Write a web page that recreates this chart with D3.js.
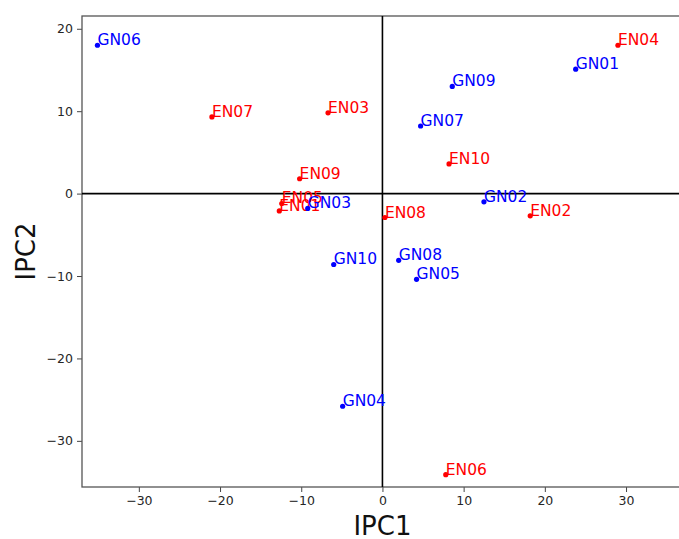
<!DOCTYPE html>
<html>
<head>
<meta charset="utf-8">
<script src="https://cdn.jsdelivr.net/npm/d3@7"></script>
<style>
	body { margin:0; background:#fff; }
	svg { display:block; font-family:"DejaVu Sans", sans-serif; }
	.tick text { fill:#262626; }
</style>
</head>
<body>
<svg id="chart" width="679" height="539"></svg>
<script>

// sample names and coordinates
var enNames = ["EN01","EN02","EN03","EN04","EN05","EN06","EN07","EN08","EN09","EN10"];
var enPC1 = [-12.7, 18.2, -6.7, 29.0, -12.4, 7.8, -21.0, 0.3, -10.2, 8.2];
var enPC2 = [-2.1, -2.7, 9.8, 18.0, -1.2, -34.1, 9.3, -2.9, 1.8, 3.6];

var gnNames = ["GN01","GN02","GN03","GN04","GN05","GN06","GN07","GN08","GN09","GN10"];
var gnPC1 = [23.8, 12.5, -9.2, -4.9, 4.2, -35.1, 4.7, 2.0, 8.6, -6.0];
var gnPC2 = [15.1, -1.0, -1.8, -25.8, -10.4, 18.0, 8.2, -8.1, 13.0, -8.6];

var xTicks = [-30, -20, -10, 0, 10, 20, 30];
var yTicks = [-30, -20, -10, 0, 10, 20];
var xLimits = [-37, 37];
var yLimits = [-35.6, 21.55];

var margin = {left:82, top:16, bottom:52};
var plotW = 74*8.12;
var plotH = 539 - margin.top - margin.bottom;

var svg = d3.select("#chart");
var g = svg.append("g").attr("transform","translate("+margin.left+","+margin.top+")");

var x = d3.scaleLinear().domain(xLimits).range([0, plotW]);
var y = d3.scaleLinear().domain(yLimits).range([plotH, 0]);

function minusSign(d){ return d3.format("d")(d).replace("-", "\u2212"); }

var xAxis = g.append("g")
	.attr("transform","translate(0,"+plotH+")")
	.call(d3.axisBottom(x).tickValues(xTicks).tickSize(5).tickPadding(4).tickFormat(minusSign));
var yAxis = g.append("g")
	.call(d3.axisLeft(y).tickValues(yTicks).tickSize(5).tickPadding(4).tickFormat(minusSign));

[xAxis, yAxis].forEach(function(a){
	a.selectAll("text").attr("font-size", 12.5).attr("font-family", "DejaVu Sans");
	a.selectAll("line").attr("stroke", "#444");
	a.select(".domain").remove();
});

// frame (right side falls outside the picture)
g.append("rect")
	.attr("x",0).attr("y",0)
	.attr("width",plotW).attr("height",plotH)
	.attr("fill","none").attr("stroke","#555").attr("stroke-width",1.3);

// zero lines
g.append("line")
	.attr("x1",x(xLimits[0])).attr("x2",x(xLimits[1]))
	.attr("y1",y(0)).attr("y2",y(0))
	.attr("stroke","#000").attr("stroke-width",1.6);
g.append("line")
	.attr("x1",x(0)).attr("x2",x(0))
	.attr("y1",y(yLimits[0])).attr("y2",y(yLimits[1]))
	.attr("stroke","#000").attr("stroke-width",1.6);

function plotGroup(names, pc1, pc2, colour){
	var pts = names.map(function(n,i){ return {name:n, px:pc1[i], py:pc2[i]}; });
	var grp = g.append("g");
	grp.selectAll("circle")
		.data(pts).enter().append("circle")
		.attr("cx", function(d){ return x(d.px); })
		.attr("cy", function(d){ return y(d.py); })
		.attr("r", 2.6)
		.attr("fill", colour);
	grp.selectAll("text")
		.data(pts).enter().append("text")
		.attr("x", function(d){ return x(d.px); })
		.attr("y", function(d){ return y(d.py); })
		.attr("font-size", 15.5)
		.attr("fill", colour)
		.text(function(d){ return d.name; });
}

plotGroup(enNames, enPC1, enPC2, "#ff0000");
plotGroup(gnNames, gnPC1, gnPC2, "#0000ff");

// axis titles
svg.append("text")
	.attr("x", margin.left + x(0)).attr("y", 535)
	.attr("text-anchor","middle").attr("font-size",26).attr("fill","#111")
	.text("IPC1");
svg.append("text")
	.attr("transform","translate(35,"+(margin.top+plotH/2)+") rotate(-90)")
	.attr("text-anchor","middle").attr("font-size",26).attr("fill","#111")
	.text("IPC2");

</script>
</body>
</html>
